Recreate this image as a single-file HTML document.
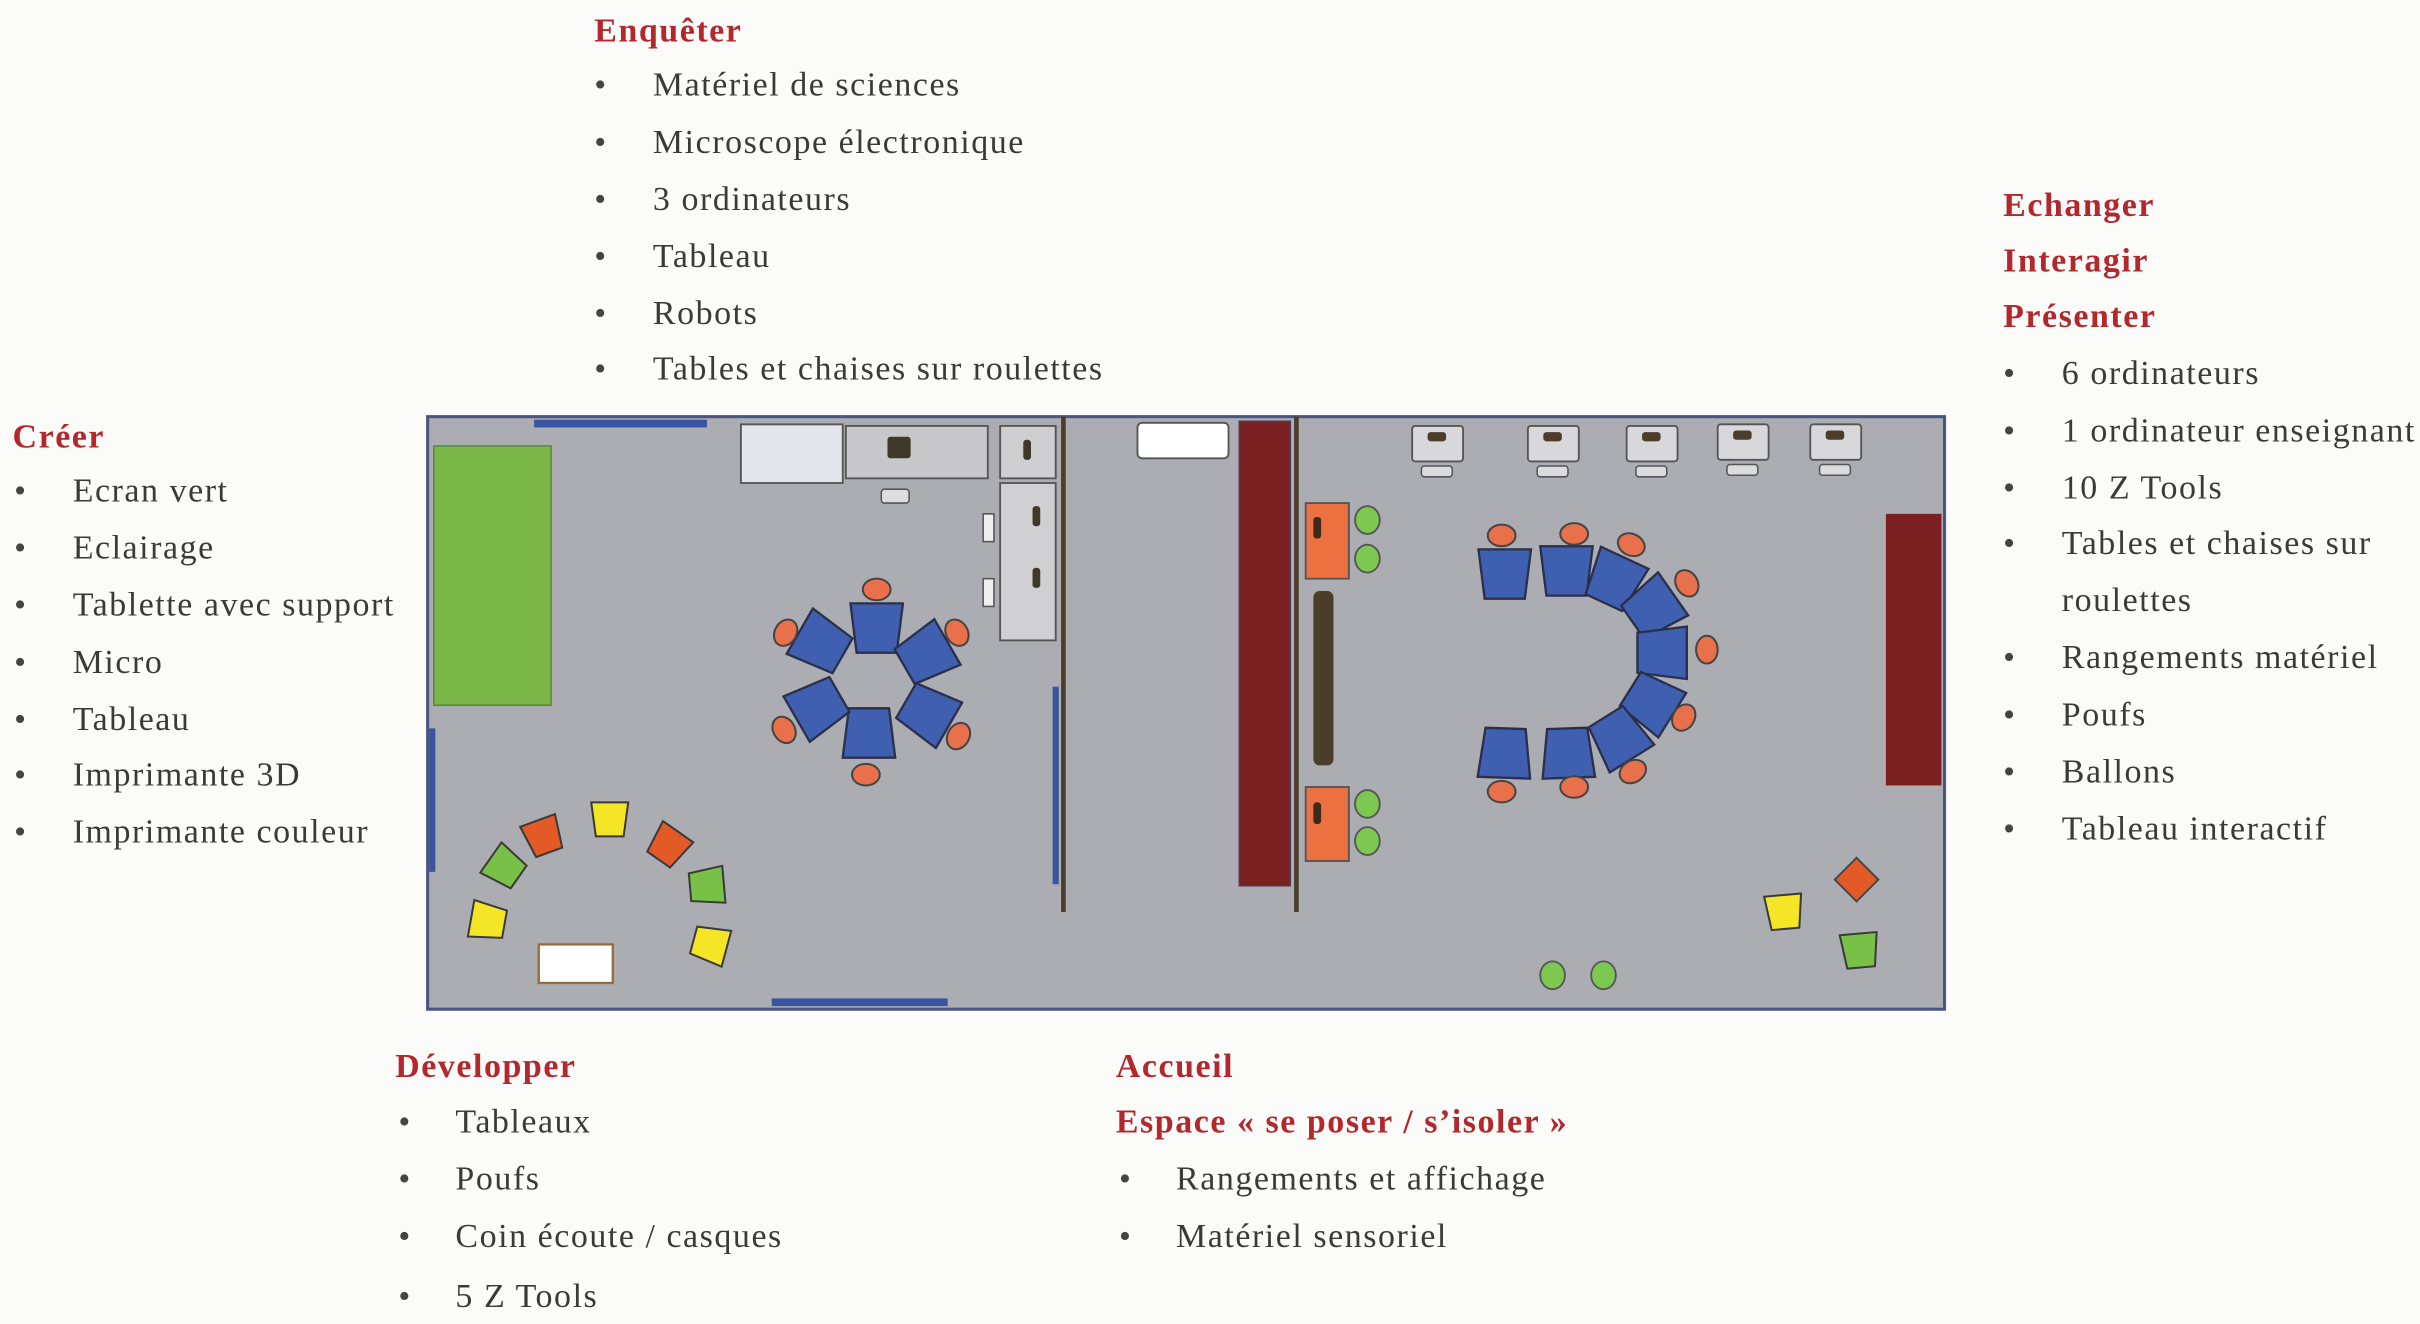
<!DOCTYPE html>
<html><head><meta charset="utf-8"><style>
html,body{margin:0;padding:0;background:#fbfbfa;}
svg{display:block;}
text{font-family:"Liberation Serif",serif;font-size:22px;fill:#3a3a3a;letter-spacing:1px;}
.h{fill:#b3282c;font-weight:bold;}
.b{font-size:22px;fill:#444;}
</style></head><body>
<svg width="2420" height="1324" viewBox="0 0 1568 858" xmlns="http://www.w3.org/2000/svg">
<defs>
<polygon id="tb" points="-17,-16 17,-16 13,16 -13,16" fill="#3f5fb0" stroke="#2b2f4a" stroke-width="1.5"/>
<polygon id="pf" points="-12,-11 12,-11 9,11 -9,11" stroke="#3a3a3a" stroke-width="1.3"/>
<ellipse id="ch" rx="9" ry="7" fill="#e8704a" stroke="#444" stroke-width="1.3"/>
<g id="pc"><rect x="-16" y="0" width="33" height="23" rx="2" fill="#d8d8da" stroke="#555" stroke-width="1.2"/><rect x="-6" y="4" width="12" height="6" rx="2" fill="#4a3e2a"/><rect x="-10" y="26" width="20" height="7" rx="2" fill="#dcdcde" stroke="#555" stroke-width="1"/></g>
</defs>

<rect x="277" y="270" width="983" height="384" fill="#acadb2" stroke="#4a5680" stroke-width="2"/>
<rect x="346" y="272" width="112" height="5" fill="#3a55a0"/>
<rect x="500" y="647" width="114" height="5" fill="#3a55a0"/>
<rect x="278" y="472" width="4" height="93" fill="#3a55a0"/>
<rect x="682" y="445" width="4" height="128" fill="#3a55a0"/>
<rect x="281" y="289" width="76" height="168" fill="#7ab648" stroke="#5a8a3a" stroke-width="1"/>
<rect x="480" y="275" width="66" height="38" fill="#e4e6ee" stroke="#555" stroke-width="1.2"/>
<rect x="548" y="276" width="92" height="34" fill="#c8c8ca" stroke="#555" stroke-width="1.2"/>
<rect x="575" y="283" width="15" height="14" rx="2" fill="#3e3a2a"/>
<rect x="571" y="317" width="18" height="9" rx="2" fill="#ddd" stroke="#555" stroke-width="1"/>
<rect x="648" y="276" width="36" height="34" fill="#cfcfd1" stroke="#555" stroke-width="1.2"/>
<rect x="663" y="285" width="5" height="13" rx="2" fill="#3e3a2a"/>
<rect x="648" y="313" width="36" height="102" fill="#d0d0d2" stroke="#555" stroke-width="1.2"/>
<rect x="669" y="328" width="5" height="13" rx="2" fill="#3e3a2a"/>
<rect x="669" y="368" width="5" height="13" rx="2" fill="#3e3a2a"/>
<rect x="637" y="333" width="7" height="18" fill="#eee" stroke="#555" stroke-width="1"/>
<rect x="637" y="375" width="7" height="18" fill="#eee" stroke="#555" stroke-width="1"/>
<line x1="689" y1="270" x2="689" y2="591" stroke="#4a3e2a" stroke-width="3"/>
<line x1="840" y1="270" x2="840" y2="591" stroke="#4a3e2a" stroke-width="3"/>
<rect x="737" y="274" width="59" height="23" rx="3" fill="#fff" stroke="#555" stroke-width="1.2"/>
<rect x="803" y="273" width="33" height="301" fill="#7a2020" stroke="#4a3a5a" stroke-width="1"/>
<rect x="846" y="326" width="28" height="49" fill="#ec7040" stroke="#555" stroke-width="1.2"/>
<rect x="851" y="335" width="5" height="14" rx="2" fill="#3e2a1a"/>
<rect x="846" y="510" width="28" height="48" fill="#ec7040" stroke="#555" stroke-width="1.2"/>
<rect x="851" y="520" width="5" height="14" rx="2" fill="#3e2a1a"/>
<rect x="851" y="383" width="13" height="113" rx="4" fill="#4a3e2a"/>
<g fill="#7cc850" stroke="#555" stroke-width="1.2">
<ellipse cx="886" cy="337" rx="8" ry="9"/><ellipse cx="886" cy="362" rx="8" ry="9"/>
<ellipse cx="886" cy="521" rx="8" ry="9"/><ellipse cx="886" cy="545" rx="8" ry="9"/>
<ellipse cx="1006" cy="632" rx="8" ry="9"/><ellipse cx="1039" cy="632" rx="8" ry="9"/>
</g>
<use href="#pc" x="931" y="276"/><use href="#pc" x="1006" y="276"/><use href="#pc" x="1070" y="276"/><use href="#pc" x="1129" y="275"/><use href="#pc" x="1189" y="275"/>
<rect x="1222" y="333" width="36" height="176" fill="#7a2020"/>

<g transform="translate(568,407)"><use href="#tb"/></g>
<g transform="translate(600,424) rotate(60)"><use href="#tb"/></g>
<g transform="translate(601,462) rotate(120)"><use href="#tb"/></g>
<g transform="translate(563,475) rotate(180)"><use href="#tb"/></g>
<g transform="translate(530,458) rotate(240)"><use href="#tb"/></g>
<g transform="translate(532,417) rotate(300)"><use href="#tb"/></g>
<use href="#ch" x="568" y="382"/><use href="#ch" transform="translate(620,410) rotate(60)"/><use href="#ch" transform="translate(621,477) rotate(120)"/>
<use href="#ch" x="561" y="502"/><use href="#ch" transform="translate(508,473) rotate(60)"/><use href="#ch" transform="translate(509,410) rotate(120)"/>

<g transform="translate(975,372)"><use href="#tb"/></g>
<g transform="translate(1015,370)"><use href="#tb"/></g>
<g transform="translate(1046,376) rotate(25)"><use href="#tb"/></g>
<g transform="translate(1071,394) rotate(55)"><use href="#tb"/></g>
<g transform="translate(1077,423) rotate(90)"><use href="#tb"/></g>
<g transform="translate(1070,455) rotate(122)"><use href="#tb"/></g>
<g transform="translate(1049,478) rotate(148)"><use href="#tb"/></g>
<g transform="translate(1016,488) rotate(178)"><use href="#tb"/></g>
<g transform="translate(975,488) rotate(182)"><use href="#tb"/></g>
<use href="#ch" x="973" y="347"/><use href="#ch" x="1020" y="346"/><use href="#ch" transform="translate(1057,353) rotate(25)"/>
<use href="#ch" transform="translate(1093,378) rotate(60)"/><use href="#ch" transform="translate(1106,421) rotate(90)"/><use href="#ch" transform="translate(1091,465) rotate(120)"/>
<use href="#ch" transform="translate(1058,500) rotate(150)"/><use href="#ch" x="1020" y="510"/><use href="#ch" x="973" y="513"/>

<g transform="translate(316,597) rotate(-80)"><use href="#pf" fill="#f4e626"/></g>
<g transform="translate(327,562) rotate(-55)"><use href="#pf" fill="#78c046"/></g>
<g transform="translate(352,542) rotate(-20)"><use href="#pf" fill="#e35a26"/></g>
<g transform="translate(395,531)"><use href="#pf" fill="#f4e626"/></g>
<g transform="translate(433,548) rotate(35)"><use href="#pf" fill="#e35a26"/></g>
<g transform="translate(458,574) rotate(85)"><use href="#pf" fill="#78c046"/></g>
<g transform="translate(460,612) rotate(105)"><use href="#pf" fill="#f4e626"/></g>
<rect x="349" y="612" width="48" height="25" fill="#fff" stroke="#9a6a3a" stroke-width="1.5"/>
<g transform="translate(1203,570) rotate(45)"><rect x="-10" y="-10" width="20" height="20" fill="#e35a26" stroke="#444" stroke-width="1.2"/></g>
<g transform="translate(1156,591) rotate(-5)"><use href="#pf" fill="#f4e626"/></g>
<g transform="translate(1205,616) rotate(-5)"><use href="#pf" fill="#78c046"/></g>

<text class="h" x="385" y="27">Enquêter</text>
<text x="385" y="62" class="b">•</text><text x="385" y="99" class="b">•</text><text x="385" y="136" class="b">•</text><text x="385" y="173" class="b">•</text><text x="385" y="210" class="b">•</text><text x="385" y="246" class="b">•</text>
<text x="423" y="62">Matériel de sciences</text>
<text x="423" y="99">Microscope électronique</text>
<text x="423" y="136">3 ordinateurs</text>
<text x="423" y="173">Tableau</text>
<text x="423" y="210">Robots</text>
<text x="423" y="246">Tables et chaises sur roulettes</text>

<text class="h" x="8" y="290">Créer</text>
<text x="9" y="325" class="b">•</text><text x="9" y="362" class="b">•</text><text x="9" y="399" class="b">•</text><text x="9" y="436" class="b">•</text><text x="9" y="473" class="b">•</text><text x="9" y="509" class="b">•</text><text x="9" y="546" class="b">•</text>
<text x="47" y="325">Ecran vert</text>
<text x="47" y="362">Eclairage</text>
<text x="47" y="399">Tablette avec support</text>
<text x="47" y="436">Micro</text>
<text x="47" y="473">Tableau</text>
<text x="47" y="509">Imprimante 3D</text>
<text x="47" y="546">Imprimante couleur</text>

<text class="h" x="1298" y="140">Echanger</text>
<text class="h" x="1298" y="176">Interagir</text>
<text class="h" x="1298" y="212">Présenter</text>
<text x="1298" y="249" class="b">•</text><text x="1298" y="286" class="b">•</text><text x="1298" y="323" class="b">•</text><text x="1298" y="359" class="b">•</text><text x="1298" y="433" class="b">•</text><text x="1298" y="470" class="b">•</text><text x="1298" y="507" class="b">•</text><text x="1298" y="544" class="b">•</text>
<text x="1336" y="249">6 ordinateurs</text>
<text x="1336" y="286">1 ordinateur enseignant</text>
<text x="1336" y="323">10 Z Tools</text>
<text x="1336" y="359">Tables et chaises sur</text>
<text x="1336" y="396">roulettes</text>
<text x="1336" y="433">Rangements matériel</text>
<text x="1336" y="470">Poufs</text>
<text x="1336" y="507">Ballons</text>
<text x="1336" y="544">Tableau interactif</text>

<text class="h" x="256" y="698">Développer</text>
<text x="258" y="734" class="b">•</text><text x="258" y="771" class="b">•</text><text x="258" y="808" class="b">•</text><text x="258" y="847" class="b">•</text>
<text x="295" y="734">Tableaux</text>
<text x="295" y="771">Poufs</text>
<text x="295" y="808">Coin écoute / casques</text>
<text x="295" y="847">5 Z Tools</text>

<text class="h" x="723" y="698">Accueil</text>
<text class="h" x="723" y="734">Espace « se poser / s’isoler »</text>
<text x="725" y="771" class="b">•</text><text x="725" y="808" class="b">•</text>
<text x="762" y="771">Rangements et affichage</text>
<text x="762" y="808">Matériel sensoriel</text>
</svg>
</body></html>
